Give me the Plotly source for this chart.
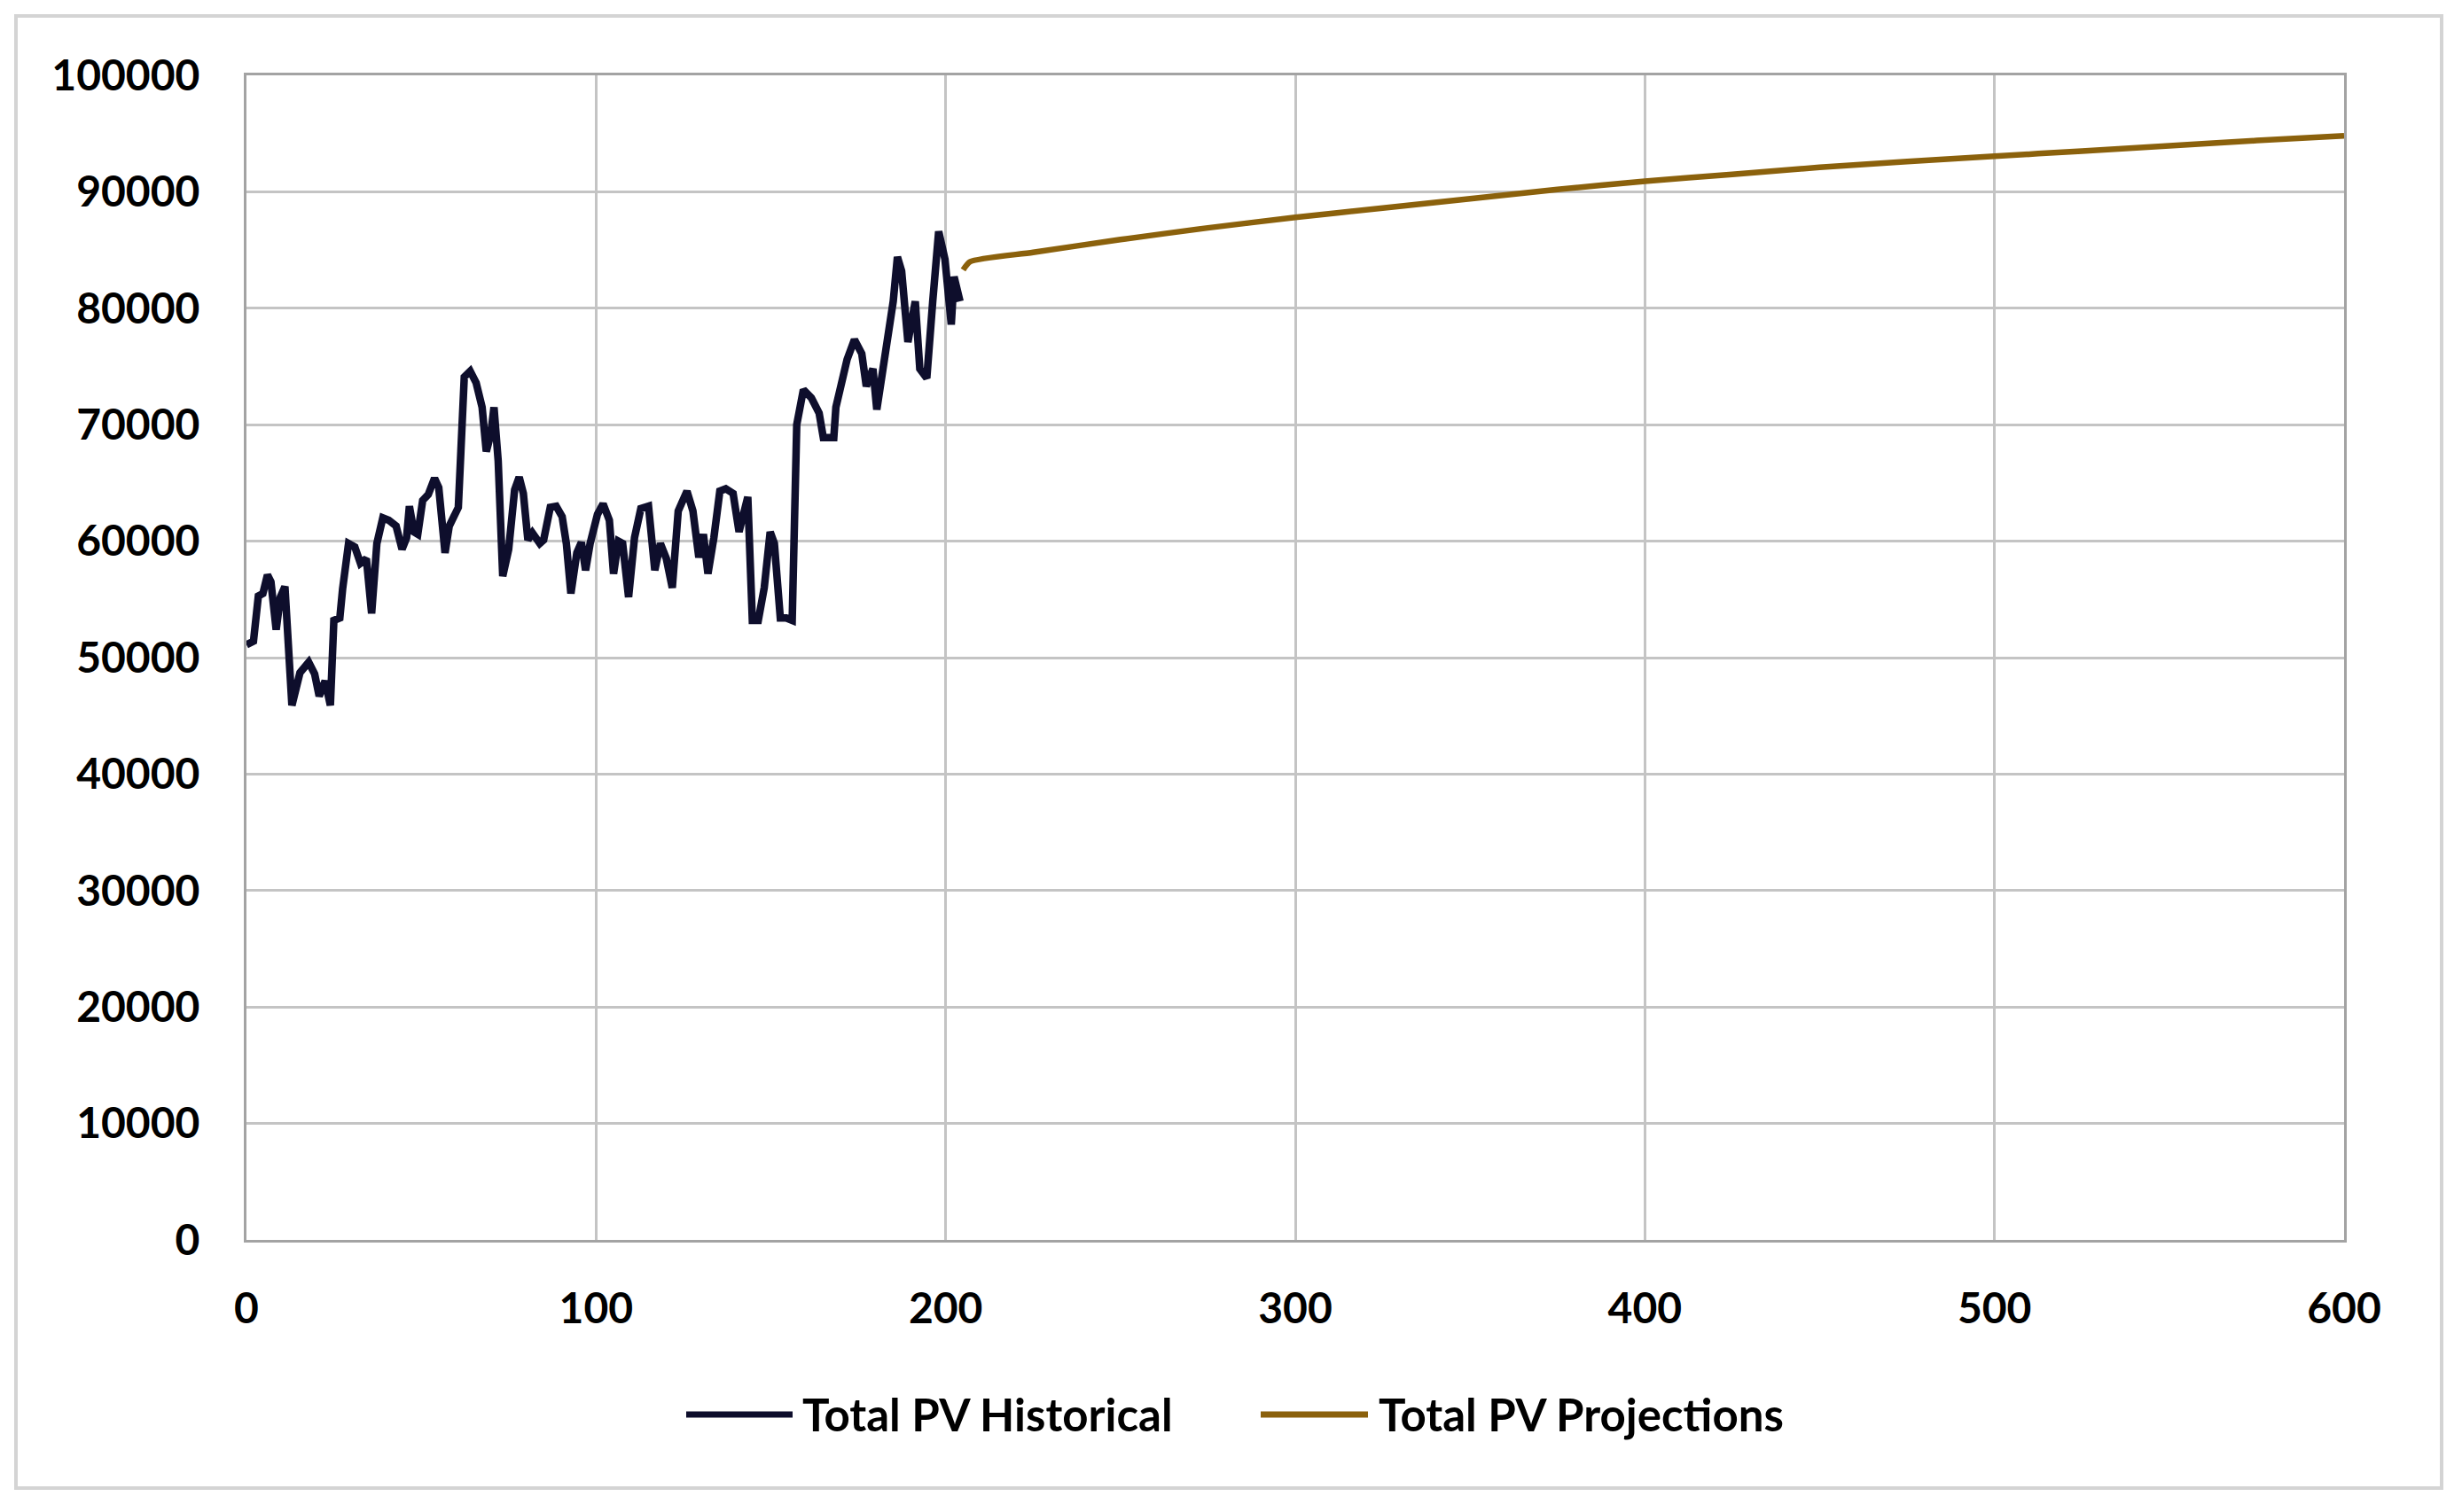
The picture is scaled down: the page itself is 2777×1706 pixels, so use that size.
import plotly.graph_objects as go

# ---- data ----
hist_x = [0, 2, 3.4, 4.7, 6, 7, 8.5, 9.7, 11, 13, 15.3, 17.8, 19.5, 20.8, 22.5, 24, 25, 26.7, 27.5,
          29.2, 31, 32.6, 34.3, 35.8, 37.3, 39, 40.7, 42.8, 44.5, 45.8, 46.6, 47.9, 49, 50.4, 52,
          53.8, 55, 56.8, 58, 59.7, 60.6, 62.3, 64, 65.7, 67.4, 68.6, 69.9, 70.8, 72, 73.3, 75,
          76.7, 78, 79.2, 80.5, 81.8, 83.9, 85, 86.9, 88.6, 90.3, 91.5, 92.8, 94.5, 95.8, 97,
          98.3, 100.4, 102, 103.8, 105, 106.4, 107.6, 109.3, 111, 112.8, 115, 116.8, 118.4, 120.1,
          121.8, 123.5, 126, 127.7, 129.4, 130.7, 132, 133.7, 135.4, 137.1, 139.2, 140.9, 142.1,
          143.4, 144.7, 146.4, 148.1, 149.8, 151, 152.7, 154.4, 156.1, 157.4, 159.3, 161.6, 163.8,
          165, 168, 168.6, 171.8, 173.9, 176, 177.3, 179.2, 180.3, 182.8, 185, 186.2, 187.4, 189.2,
          191.3, 192.6, 194.6, 196.3, 198, 199.8, 201.6, 202.4, 204.1]
hist_v = [51100, 51400, 55300, 55500, 57100, 56500, 52400, 55200, 56100, 45900, 48700, 49600, 48600,
          46700, 48000, 45900, 53200, 53400, 55900, 59800, 59500, 58100, 58500, 53800, 59800, 62000,
          61800, 61300, 59300, 60300, 63000, 60800, 60600, 63500, 64000, 65400, 64600, 59000, 61300,
          62300, 62900, 74100, 74600, 73600, 71500, 67700, 69200, 71500, 66900, 57000, 59300, 64400,
          65500, 64100, 60100, 60700, 59800, 60100, 62900, 63000, 62100, 59800, 55500, 59000, 59900,
          57500, 59800, 62300, 63200, 61800, 57200, 60000, 59800, 55200, 60300, 62800, 63000, 57500,
          59800, 58500, 56000, 62600, 64300, 62600, 58600, 60600, 57200, 60300, 64300, 64500, 64100,
          60800, 62300, 63800, 53200, 53200, 56000, 60800, 59800, 53400, 53400, 53200, 70000, 73000,
          72300, 71000, 68900, 68900, 71500, 75600, 77300, 76100, 73300, 74800, 71300, 76100, 80600,
          84400, 83200, 77100, 80600, 74800, 74000, 80600, 86600, 84200, 78600, 82700, 80600]

proj_x = [205, 207, 225, 250, 275, 300, 325, 350, 375, 400, 425, 450, 475, 500, 525, 550, 575, 600]
proj_v = [83300, 84000, 84800, 85900, 86900, 87800, 88600, 89400, 90200, 90900, 91500, 92100,
          92600, 93050, 93500, 93950, 94400, 94800]

series_names = ["Total PV Historical", "Total PV Projections"]
x_ticks = [0, 100, 200, 300, 400, 500, 600]
y_ticks = [0, 10000, 20000, 30000, 40000, 50000, 60000, 70000, 80000, 90000, 100000]

HIST_COLOR = "#0E0E2C"
PROJ_COLOR = "#8B610C"
FONT = "Lato"

W, H = 2777, 1706
L, R, T, B = 278, 133, 85, 307
pw, ph = W - L - R, H - T - B


def px_x(p):
    return (p - L) / pw


def px_y(p):
    return (H - B - p) / ph


fig = go.Figure()
fig.add_trace(go.Scatter(x=hist_x, y=hist_v, mode="lines", name=series_names[0],
                         line=dict(color=HIST_COLOR, width=8.5), showlegend=False))
fig.add_trace(go.Scatter(x=proj_x, y=proj_v, mode="lines", name=series_names[1],
                         line=dict(color=PROJ_COLOR, width=6.5, shape="spline", smoothing=0.6),
                         showlegend=False))

axis_common = dict(showgrid=True, gridcolor="#C4C4C4", gridwidth=3, zeroline=False,
                   showline=True, mirror=True, linecolor="#A3A3A3", linewidth=3,
                   ticks="", tickfont=dict(family=FONT, size=48, color="#000000", weight="bold"))

fig.update_xaxes(range=[0, 600], tickvals=x_ticks, ticktext=[str(v) for v in x_ticks],
                 ticklabelstandoff=33, **axis_common)
fig.update_yaxes(range=[0, 100000], tickvals=y_ticks, ticktext=[str(v) for v in y_ticks],
                 ticklabelstandoff=40, **axis_common)

shapes = [
    # outer chart border
    dict(type="rect", xref="paper", yref="paper",
         x0=px_x(18), x1=px_x(2754), y0=px_y(1679), y1=px_y(18),
         line=dict(color="#D4D4D4", width=4), fillcolor="rgba(0,0,0,0)", layer="below"),
    # legend samples
    dict(type="line", xref="paper", yref="paper", x0=px_x(774), x1=px_x(894),
         y0=px_y(1596), y1=px_y(1596), line=dict(color=HIST_COLOR, width=7)),
    dict(type="line", xref="paper", yref="paper", x0=px_x(1422), x1=px_x(1543),
         y0=px_y(1596), y1=px_y(1596), line=dict(color=PROJ_COLOR, width=7)),
]
annotations = [
    dict(text=series_names[0], xref="paper", yref="paper", x=px_x(903), y=px_y(1596),
         xanchor="left", yanchor="middle", showarrow=False,
         font=dict(family=FONT, size=51, color="#000000", weight="bold")),
    dict(text=series_names[1], xref="paper", yref="paper", x=px_x(1553), y=px_y(1596),
         xanchor="left", yanchor="middle", showarrow=False,
         font=dict(family=FONT, size=51, color="#000000", weight="bold")),
]

fig.update_layout(width=W, height=H, autosize=False,
                  margin=dict(l=L, r=R, t=T, b=B, pad=0),
                  paper_bgcolor="#FFFFFF", plot_bgcolor="#FFFFFF",
                  showlegend=False, shapes=shapes, annotations=annotations,
                  font=dict(family=FONT))

fig.write_html("out.html", config={"displayModeBar": False},
               post_script="document.body.style.margin='0';document.body.style.overflow='hidden';")
